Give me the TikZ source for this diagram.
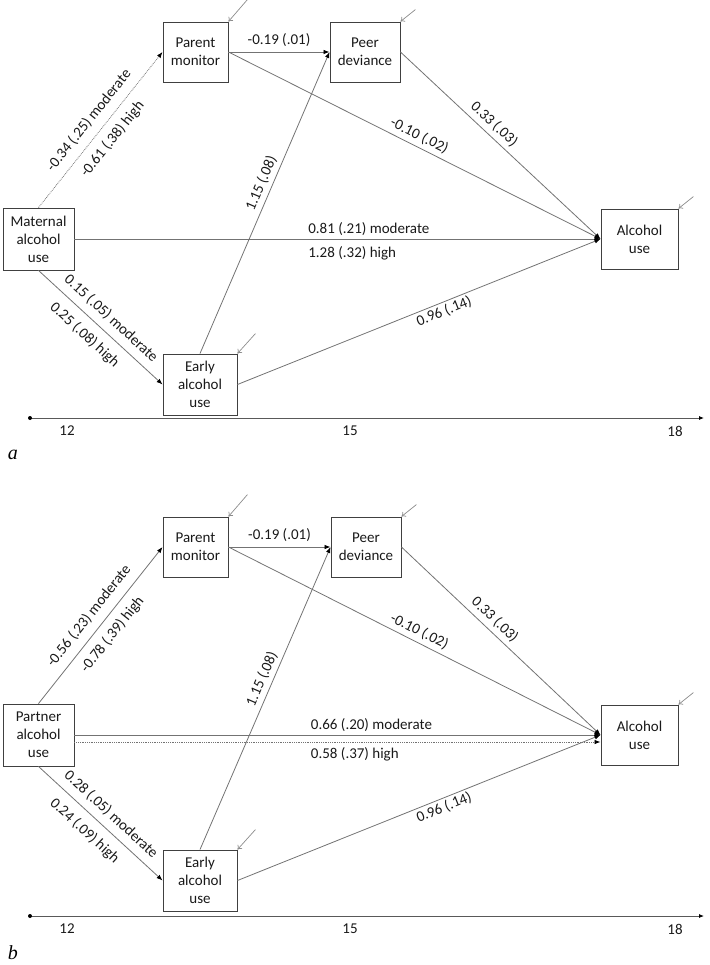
\documentclass[tikz,border=0pt]{standalone}
\usepackage{fontspec}
\setmainfont{Carlito}
\newfontfamily\letterfont{Liberation Serif}
\usetikzlibrary{arrows.meta}

\tikzset{
	var/.style={draw=black!75, line width=0.9pt, align=center, inner sep=1pt,
		font=\fontsize{15}{18}\selectfont, text=black!90},
	link/.style={draw=black!55, line width=0.8pt, -{Latex[length=6pt, width=4.5pt, black]}},
	resid/.style={draw=black!45, line width=0.7pt, -{To[length=4pt, width=6pt]}},
	coef/.style={font=\fontsize{15}{18}\selectfont, text=black!90, inner sep=2pt, sloped},
	age/.style={font=\fontsize{15}{18}\selectfont, text=black!90},
	axis/.style={draw=black!65, line width=0.8pt, -{Latex[length=5pt, width=4pt, black]}},
	panel/.style={font=\fontsize{20}{22}\letterfont\itshape}
}

\begin{document}
\begin{tikzpicture}[x=1pt, y=-1pt]
		\useasboundingbox ( 0, 0 ) rectangle ( 709, 965 );

		% панель a
		\node (apm) [var, minimum width=65, minimum height=60] at ( 195.5, 52 ) {Parent\\monitor};
		\node (apd) [var, minimum width=70, minimum height=60] at ( 365, 52 ) {Peer\\deviance};
		\node (ama) [var, minimum width=71, minimum height=62] at ( 38.5, 239 ) {Maternal\\alcohol\\use};
		\node (aal) [var, minimum width=77, minimum height=60] at ( 639.5, 239 ) {Alcohol\\use};
		\node (aea) [var, minimum width=74, minimum height=61] at ( 200, 384.5 ) {Early\\alcohol\\use};

		\draw [link, densely dotted] (ama.north) -- node [coef, above=6pt] {-0.34 (.25) moderate} node [coef, below=6pt] {-0.61 (.38) high} (apm.west);
		\draw [link] (apm.east) -- node [coef, above=3pt] {-0.19 (.01)} (apd.west);
		\draw [link] (apm.east) -- node [coef, above=2pt] {-0.10 (.02)} (aal.west);
		\draw [link] (apd.east) -- node [coef, pos=0.43, above=2.5pt] {0.33 (.03)} (aal.west);
		\draw [link] (aea.north) -- node [coef, pos=0.55, above=2pt] {1.15 (.08)} (apd.west);
		\draw [link] (ama.east) -- node [coef, pos=0.44, anchor=south west, yshift=1pt] {0.81 (.21) moderate} node [coef, pos=0.44, anchor=north west, yshift=-5pt] {1.28 (.32) high} (aal.west);
		\draw [link] (ama.south) -- node [coef, pos=0.51, above=5pt] {0.15 (.05) moderate} node [coef, pos=0.46, below=7pt] {0.25 (.08) high} (aea.west);
		\draw [link] (aea.east) -- node [coef, pos=0.56, below] {0.96 (.14)} (aal.west);

		\draw [resid] ([xshift=19pt, yshift=22pt]apm.north east) -- (apm.north east);
		\draw [resid] ([xshift=15pt, yshift=12pt]apd.north east) -- (apd.north east);
		\draw [resid] ([xshift=15pt, yshift=12pt]aal.north east) -- (aal.north east);
		\draw [resid] ([xshift=18pt, yshift=20pt]aea.north east) -- (aea.north east);

		% шкала возраста a
		\coordinate (ta0) at ( 30, 418 );
		\coordinate (ta1) at ( 704, 418 );
		\draw [axis] (ta0) -- (ta1);
		\fill [black] (ta0) circle ( 2 );
		\node (a12) [age] at ( 67, 431 ) {12};
		\node (a15) [age] at ( 350, 431 ) {15};
		\node (a18) [age] at ( 675, 431 ) {18};
		\node (alet) [panel] at ( 13, 455 ) {a};

		% панель b
		\node (bpm) [var, minimum width=65, minimum height=60] at ( 195.5, 547 ) {Parent\\monitor};
		\node (bpd) [var, minimum width=70, minimum height=60] at ( 366, 547 ) {Peer\\deviance};
		\node (bpa) [var, minimum width=71, minimum height=62] at ( 38.5, 735 ) {Partner\\alcohol\\use};
		\node (bal) [var, minimum width=77, minimum height=60] at ( 639.5, 735 ) {Alcohol\\use};
		\node (bea) [var, minimum width=74, minimum height=61] at ( 200, 880.5 ) {Early\\alcohol\\use};

		\draw [link] (bpa.north) -- node [coef, above=6pt] {-0.56 (.23) moderate} node [coef, below=6pt] {-0.78 (.39) high} (bpm.west);
		\draw [link] (bpm.east) -- node [coef, above=3pt] {-0.19 (.01)} (bpd.west);
		\draw [link] (bpm.east) -- node [coef, above=2pt] {-0.10 (.02)} (bal.west);
		\draw [link] (bpd.east) -- node [coef, pos=0.43, above=2.5pt] {0.33 (.03)} (bal.west);
		\draw [link] (bea.north) -- node [coef, pos=0.55, above=2pt] {1.15 (.08)} (bpd.west);
		\draw [link] (bpa.east) -- node [coef, pos=0.445, anchor=south west, yshift=1pt] {0.66 (.20) moderate} (bal.west);
		\draw [link, densely dotted] ([yshift=-7pt]bpa.east) -- node [coef, pos=0.445, anchor=north west, yshift=-3pt] {0.58 (.37) high} ([yshift=-7pt]bal.west);
		\draw [link] (bpa.south) -- node [coef, pos=0.51, above=5pt] {0.28 (.05) moderate} node [coef, pos=0.46, below=7pt] {0.24 (.09) high} (bea.west);
		\draw [link] (bea.east) -- node [coef, pos=0.56, below] {0.96 (.14)} (bal.west);

		\draw [resid] ([xshift=19pt, yshift=22pt]bpm.north east) -- (bpm.north east);
		\draw [resid] ([xshift=15pt, yshift=12pt]bpd.north east) -- (bpd.north east);
		\draw [resid] ([xshift=15pt, yshift=12pt]bal.north east) -- (bal.north east);
		\draw [resid] ([xshift=18pt, yshift=20pt]bea.north east) -- (bea.north east);

		% шкала возраста b
		\coordinate (tb0) at ( 30, 916 );
		\coordinate (tb1) at ( 704, 916 );
		\draw [axis] (tb0) -- (tb1);
		\fill [black] (tb0) circle ( 2 );
		\node (b12) [age] at ( 67, 929 ) {12};
		\node (b15) [age] at ( 350, 929 ) {15};
		\node (b18) [age] at ( 675, 929 ) {18};
		\node (blet) [panel] at ( 13, 953 ) {b};
	\end{tikzpicture}
\end{document}
